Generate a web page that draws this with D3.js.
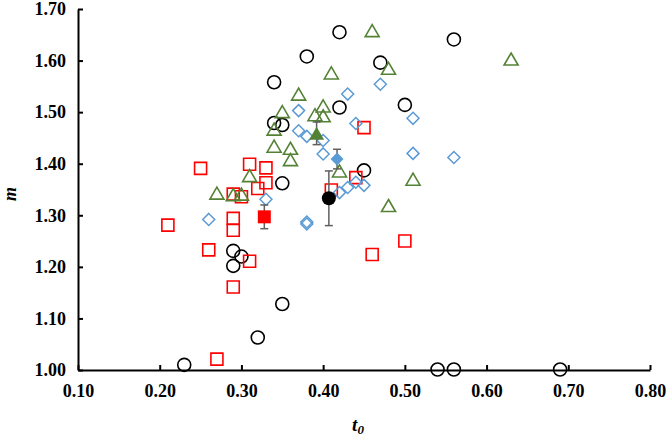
<!DOCTYPE html>
<html>
<head>
<meta charset="utf-8">
<script src="https://cdn.jsdelivr.net/npm/d3@7"></script>
<style>
	body { margin: 0; background: #fff; }
	svg { display: block; }
	.axis text { font-family: "Liberation Serif", "Times New Roman", serif; font-weight: bold; font-size: 18px; fill: #000; }
	.axis path, .axis line { stroke: #000; stroke-width: 2px; }
	.title { font-family: "Liberation Serif", "Times New Roman", serif; font-weight: bold; font-style: italic; fill: #000; }
</style>
</head>
<body>
<div id="chart"></div>
<script>
// Open circles
const circleT0 = [0.42, 0.38, 0.56, 0.47, 0.34, 0.42, 0.50, 0.34, 0.35, 0.35, 0.45, 0.29, 0.30, 0.29, 0.35, 0.32, 0.23, 0.54, 0.56, 0.69];
const circleM = [1.655, 1.608, 1.641, 1.596, 1.558, 1.509, 1.514, 1.479, 1.475, 1.362, 1.387, 1.231, 1.220, 1.202, 1.128, 1.063, 1.010, 1.001, 1.001, 1.001];

// Open squares
const squareT0 = [0.45, 0.44, 0.41, 0.50, 0.46, 0.25, 0.31, 0.33, 0.33, 0.32, 0.29, 0.30, 0.21, 0.29, 0.29, 0.26, 0.31, 0.29, 0.27];
const squareM = [1.470, 1.373, 1.349, 1.250, 1.224, 1.391, 1.399, 1.392, 1.363, 1.352, 1.341, 1.336, 1.281, 1.294, 1.271, 1.233, 1.211, 1.161, 1.021];

// Open triangles
const triangleT0 = [0.46, 0.63, 0.48, 0.41, 0.37, 0.35, 0.40, 0.39, 0.40, 0.34, 0.34, 0.36, 0.36, 0.42, 0.51, 0.48, 0.31, 0.27, 0.29, 0.30];
const triangleM = [1.658, 1.603, 1.585, 1.576, 1.535, 1.501, 1.512, 1.495, 1.493, 1.467, 1.434, 1.430, 1.408, 1.386, 1.370, 1.319, 1.377, 1.343, 1.340, 1.341];

// Open diamonds
const diamondT0 = [0.47, 0.43, 0.37, 0.51, 0.44, 0.37, 0.38, 0.40, 0.40, 0.51, 0.56, 0.42, 0.43, 0.44, 0.45, 0.33, 0.26, 0.38, 0.38];
const diamondM = [1.554, 1.535, 1.503, 1.488, 1.478, 1.464, 1.453, 1.445, 1.419, 1.420, 1.412, 1.344, 1.354, 1.364, 1.358, 1.331, 1.292, 1.287, 1.283];

// Group means (circle, square, triangle, diamond) with error
const meanT0 = [0.407, 0.328, 0.392, 0.417];
const meanM = [1.333, 1.297, 1.459, 1.409];
const meanErr = [0.053, 0.023, 0.022, 0.019];

const xTicks = [0.1, 0.2, 0.3, 0.4, 0.5, 0.6, 0.7, 0.8];
const yTicks = [1.0, 1.1, 1.2, 1.3, 1.4, 1.5, 1.6, 1.7];

const width = 668, height = 440;
const svg = d3.select("#chart").append("svg").attr("width", width).attr("height", height);

const x = d3.scaleLinear().domain([0.1, 0.8]).range([78, 650]);
const y = d3.scaleLinear().domain([1.0, 1.7]).range([370, 9]);

// Axes
svg.append("g")
	.attr("class", "axis")
	.attr("transform", `translate(0,${y(1.0)})`)
	.call(d3.axisBottom(x).tickValues(xTicks).tickSizeInner(-5).tickSizeOuter(0).tickPadding(14).tickFormat(d3.format(".2f")));

svg.append("g")
	.attr("class", "axis")
	.attr("transform", `translate(${x(0.1)},0)`)
	.call(d3.axisLeft(y).tickValues(yTicks).tickSizeInner(-5).tickSizeOuter(0).tickPadding(12).tickFormat(d3.format(".2f")));

// Axis titles
svg.append("text")
	.attr("class", "title")
	.attr("x", 358)
	.attr("y", 431)
	.attr("text-anchor", "middle")
	.style("font-size", "19px")
	.text("t")
	.append("tspan")
	.attr("dy", 3)
	.style("font-size", "13px")
	.text("0");

svg.append("text")
	.attr("class", "title")
	.attr("transform", `translate(16,194) rotate(-90)`)
	.attr("text-anchor", "middle")
	.style("font-size", "18px")
	.text("m");

// Marker shapes
const squarePath = (s) => `M${-s / 2},${-s / 2}h${s}v${s}h${-s}Z`;
const trianglePath = (w, h) => `M0,${-h / 2}L${w / 2},${h / 2}L${-w / 2},${h / 2}Z`;
const diamondPath = (s) => `M0,${-s / 2}L${s / 2},0L0,${s / 2}L${-s / 2},0Z`;

const toPts = (xs, ys) => xs.map((d, i) => [d, ys[i]]);

// Circles
svg.append("g").selectAll("circle")
	.data(toPts(circleT0, circleM))
	.enter().append("circle")
	.attr("cx", (d) => x(d[0]))
	.attr("cy", (d) => y(d[1]))
	.attr("r", 6.5)
	.attr("fill", "none")
	.attr("stroke", "#000")
	.attr("stroke-width", 1.6);

// Squares
svg.append("g").selectAll("path")
	.data(toPts(squareT0, squareM))
	.enter().append("path")
	.attr("d", squarePath(12))
	.attr("transform", (d) => `translate(${x(d[0])},${y(d[1])})`)
	.attr("fill", "none")
	.attr("stroke", "#ff0000")
	.attr("stroke-width", 1.6);

// Triangles
svg.append("g").selectAll("path")
	.data(toPts(triangleT0, triangleM))
	.enter().append("path")
	.attr("d", trianglePath(14, 12))
	.attr("transform", (d) => `translate(${x(d[0])},${y(d[1])})`)
	.attr("fill", "none")
	.attr("stroke", "#548235")
	.attr("stroke-width", 1.6);

// Diamonds
svg.append("g").selectAll("path")
	.data(toPts(diamondT0, diamondM))
	.enter().append("path")
	.attr("d", diamondPath(12))
	.attr("transform", (d) => `translate(${x(d[0])},${y(d[1])})`)
	.attr("fill", "none")
	.attr("stroke", "#5b9bd5")
	.attr("stroke-width", 1.5);

// Mean markers with error bars
const means = meanT0.map((d, i) => ({ t0: d, m: meanM[i], err: meanErr[i], i }));
const errColor = "#606060";
const eg = svg.append("g");
means.forEach((d) => {
	const cx = x(d.t0);
	eg.append("line").attr("x1", cx).attr("x2", cx).attr("y1", y(d.m + d.err)).attr("y2", y(d.m - d.err))
		.attr("stroke", errColor).attr("stroke-width", 1.5);
	[d.m + d.err, d.m - d.err].forEach((v) => {
		eg.append("line").attr("x1", cx - 4).attr("x2", cx + 4).attr("y1", y(v)).attr("y2", y(v))
			.attr("stroke", errColor).attr("stroke-width", 1.5);
	});
});

const mg = svg.append("g");
means.forEach((d) => {
	const t = `translate(${x(d.t0)},${y(d.m)})`;
	if (d.i === 0) {
		mg.append("circle").attr("cx", x(d.t0)).attr("cy", y(d.m)).attr("r", 7).attr("fill", "#000");
	} else if (d.i === 1) {
		mg.append("path").attr("d", squarePath(13)).attr("transform", t).attr("fill", "#ff0000");
	} else if (d.i === 2) {
		mg.append("path").attr("d", trianglePath(15, 13)).attr("transform", t).attr("fill", "#548235");
	} else {
		mg.append("path").attr("d", diamondPath(13)).attr("transform", t).attr("fill", "#5b9bd5");
	}
});
</script>
</body>
</html>
